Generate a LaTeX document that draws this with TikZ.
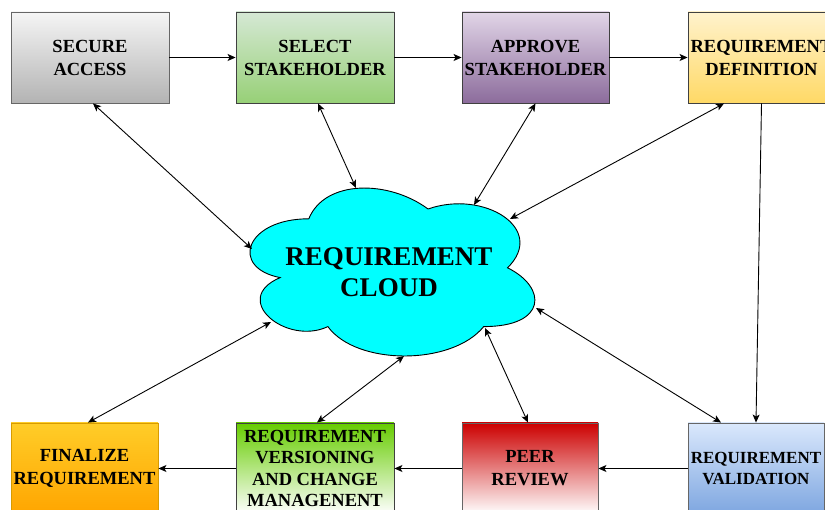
\documentclass[tikz,border=0pt]{standalone}
\usepackage{fontspec}
\setmainfont{Liberation Serif}
\usetikzlibrary{arrows.meta}
\definecolor{grayTop}{HTML}{F5F5F5}
\definecolor{grayBot}{HTML}{B3B3B3}
\definecolor{greenTop}{HTML}{D5E8D4}
\definecolor{greenBot}{HTML}{97D077}
\definecolor{purpleTop}{HTML}{E1D5E7}
\definecolor{purpleBot}{HTML}{8C6C9C}
\definecolor{yellowTop}{HTML}{FFF2CC}
\definecolor{yellowBot}{HTML}{FFD966}
\definecolor{orangeTop}{HTML}{FFCD28}
\definecolor{orangeBot}{HTML}{FFA500}
\definecolor{orangeLine}{HTML}{D79B00}
\definecolor{limeTop}{HTML}{66CC00}
\definecolor{redTop}{HTML}{CC0000}
\definecolor{blueTop}{HTML}{DAE8FC}
\definecolor{blueBot}{HTML}{7EA6E0}
\definecolor{cloudFill}{HTML}{00FFFF}
\tikzset{
	stage/.style    = {draw=black!75, rectangle, align=center, inner sep=0pt,
		minimum height=91pt, font=\bfseries\fontsize{18.5}{23}\selectfont},
	wide/.style     = {minimum width=158pt},
	narrow/.style   = {minimum width=147pt},
	slim/.style     = {minimum width=136pt},
	store/.style    = {align=center, font=\bfseries\fontsize{27}{31}\selectfont}
}

\begin{document}
\begin{tikzpicture}[x=1pt, y=-1pt, line width=0.9pt, >={Stealth[length=8pt,width=7pt,inset=2pt]}]
	\clip (0,0) rectangle (825,510);
	% the cloud outline, in a unit box
	\draw[fill=cloudFill, shift={(229.3,169.8)}, xscale=318, yscale=196]
	(0.25,0.25) .. controls (0.05,0.25) and (0,0.5) .. (0.16,0.55)
	.. controls (0,0.66) and (0.18,0.9) .. (0.31,0.8)
	.. controls (0.4,1) and (0.7,1) .. (0.8,0.8)
	.. controls (1,0.8) and (1,0.6) .. (0.875,0.5)
	.. controls (1,0.3) and (0.8,0.1) .. (0.625,0.2)
	.. controls (0.5,0.05) and (0.3,0.05) .. (0.25,0.25) -- cycle;
	\draw
	node at (90,57.5) [stage,wide,draw=black!60,top color=grayTop,bottom color=grayBot] (access) {SECURE\\ACCESS}
	node at (315,57.5) [stage,wide,top color=greenTop,bottom color=greenBot] (select) {SELECT\\STAKEHOLDER}
	node at (535.5,57.5) [stage,narrow,top color=purpleTop,bottom color=purpleBot] (approve) {APPROVE\\STAKEHOLDER}
	node at (761.5,57.5) [stage,narrow,top color=yellowTop,bottom color=yellowBot] (define) {REQUIREMENT\\DEFINITION}
	node at (84.5,468.5) [stage,narrow,draw=orangeLine,top color=orangeTop,bottom color=orangeBot] (final) {FINALIZE\\REQUIREMENT}
	node at (315,468.5) [stage,wide,top color=limeTop,bottom color=white,font=\bfseries\fontsize{18.5}{21.5}\selectfont] (version) {REQUIREMENT\\VERSIONING\\AND CHANGE\\MANAGENENT}
	node at (530,468.5) [stage,slim,draw=black!60,top color=redTop,bottom color=white] (review) {PEER\\REVIEW}
	node at (756,468.5) [stage,slim,draw=black!60,top color=blueTop,bottom color=blueBot,font=\bfseries\fontsize{17}{21}\selectfont] (valid) {REQUIREMENT\\VALIDATION}
	node at (389,272) [store] (cloud) {REQUIREMENT\\CLOUD}
	;
	% points where the links meet the cloud
	\coordinate (cAccess)  at (252,249);
	\coordinate (cSelect)  at (356,188);
	\coordinate (cApprove) at (474,205);
	\coordinate (cDefine)  at (510,219);
	\coordinate (cFinal)   at (271,322);
	\coordinate (cVersion) at (404,356);
	\coordinate (cReview)  at (485,328);
	\coordinate (cValid)   at (536,308);
	% main flow
	\draw[->](access)--(select);
	\draw[->](select)--(approve);
	\draw[->](approve)--(define);
	\draw[->](define.south)--(valid.north);
	\draw[->](valid)--(review);
	\draw[->](review)--(version);
	\draw[->](version)--(final);
	% links to the cloud
	\draw[<->]([xshift=3pt]access.south)--(cAccess);
	\draw[<->]([xshift=3pt]select.south)--(cSelect);
	\draw[<->](approve.south)--(cApprove);
	\draw[<->]([xshift=-37.5pt]define.south)--(cDefine);
	\draw[<->]([xshift=3.5pt]final.north)--(cFinal);
	\draw[<->]([xshift=2pt]version.north)--(cVersion);
	\draw[<->]([xshift=-2pt]review.north)--(cReview);
	\draw[<->]([xshift=-35pt]valid.north)--(cValid);
\end{tikzpicture}
\end{document}
